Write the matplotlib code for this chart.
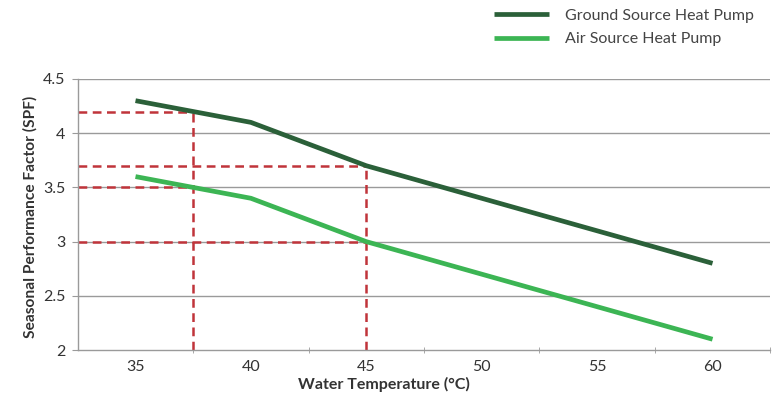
import numpy as np
import matplotlib
matplotlib.use('Agg')
import matplotlib.pyplot as plt
from matplotlib.ticker import FixedLocator, NullFormatter

plt.rcParams['font.family'] = ['Lato', 'DejaVu Sans']

# Data
temps = [35, 40, 45, 50, 55, 60]
ground_x = [35, 40, 45, 60]
ground_spf = [4.3, 4.1, 3.7, 2.8]
air_x = [35, 40, 45, 60]
air_spf = [3.6, 3.4, 3.0, 2.1]

# Reference lines (temperature, spf) for the dashed read-offs
ref_temps = [37.5, 37.5, 45, 45]
ref_spf = [4.2, 3.5, 3.7, 3.0]

c_ground = '#2b6039'
c_air = '#3cb554'
c_ref = '#c0343a'
c_grid = '#9a9a9a'

fig = plt.figure(figsize=(7.78, 4.01), dpi=100)
ax = fig.add_axes([0.100, 0.127, 0.890, 0.676])

ax.set_xlim(32.5, 62.5)
ax.set_ylim(2, 4.5)

# gridlines
for y in [2.5, 3, 3.5, 4, 4.5]:
    ax.axhline(y, color=c_grid, lw=1.0, zorder=1)

# dashed read-off lines
dash = (0, (3.5, 2.2))
for t, s in zip(ref_temps, ref_spf):
    ax.plot([32.5, t], [s, s], color=c_ref, lw=1.8, ls=dash, zorder=2)
for t in sorted(set(ref_temps)):
    top = max(s for tt, s in zip(ref_temps, ref_spf) if tt == t)
    ax.plot([t, t], [2, top], color=c_ref, lw=1.8, ls=dash, zorder=2)

ln1, = ax.plot(ground_x, ground_spf, color=c_ground, lw=3.4, zorder=3,
               solid_capstyle='butt', label='Ground Source Heat Pump')
ln2, = ax.plot(air_x, air_spf, color=c_air, lw=3.4, zorder=3,
               solid_capstyle='butt', label='Air Source Heat Pump')

for side in ['top', 'right']:
    ax.spines[side].set_visible(False)
for side in ['left', 'bottom']:
    ax.spines[side].set_color(c_grid)
    ax.spines[side].set_linewidth(1.0)

ax.set_xticks(temps)
ax.set_xticklabels([str(t) for t in temps])
ax.xaxis.set_minor_locator(FixedLocator([37.5, 42.5, 47.5, 52.5, 57.5, 62.5]))
ax.xaxis.set_minor_formatter(NullFormatter())
ax.tick_params(axis='x', which='major', length=0, pad=7, labelsize=11.5, colors='#333333')
ax.tick_params(axis='x', which='minor', length=4, direction='inout', color=c_grid)

yt = [2, 2.5, 3, 3.5, 4, 4.5]
ax.set_yticks(yt)
ax.set_yticklabels(['%g' % v for v in yt])
ax.tick_params(axis='y', length=4, color=c_grid, pad=5, labelsize=11.5, labelcolor='#333333')

ax.set_xlabel('Water Temperature (°C)', fontsize=11.5, fontweight='bold', color='#333333')
ax.xaxis.set_label_coords(0.442, -0.10)
ax.set_ylabel('Seasonal Performance Factor (SPF)', fontsize=11.2, fontweight='bold', color='#333333')
ax.yaxis.set_label_coords(-0.058, 0.49)

fig.legend(handles=[ln1, ln2], loc='upper left', bbox_to_anchor=(0.617, 1.015),
           frameon=False, fontsize=11.5, handlelength=3.4, handletextpad=1.0,
           labelspacing=0.6, labelcolor='#444444')

fig.savefig('out.png', dpi=100)
